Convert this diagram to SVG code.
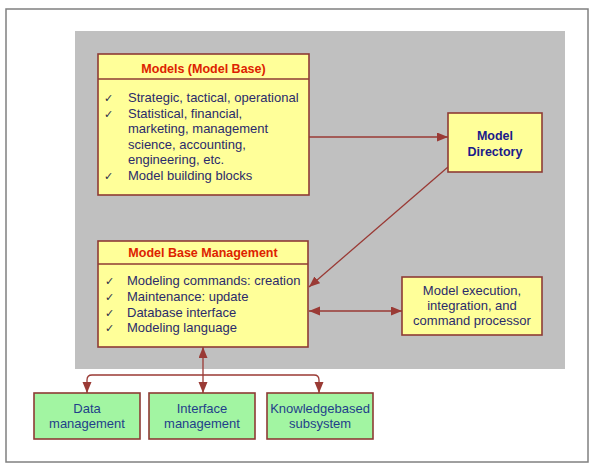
<svg xmlns="http://www.w3.org/2000/svg" width="593" height="469" viewBox="0 0 593 469">
<style>
.y{fill:#ffff99;stroke:#8e3b35;stroke-width:1.6}
.g{fill:#a2f5a2;stroke:#8e3b35;stroke-width:1.6}
.t{font-family:"Liberation Sans",Arial,sans-serif;font-size:12.5px;font-weight:bold;fill:#dd2200;text-anchor:middle}
.b{font-family:"Liberation Sans",Arial,sans-serif;font-size:13px;fill:#2b2b6b}
.c{font-family:"DejaVu Sans",sans-serif;font-size:11px;fill:#2b2b4b}
.d{font-family:"Liberation Sans",Arial,sans-serif;font-size:12.5px;font-weight:bold;fill:#1a1a8a;text-anchor:middle}
.m{font-family:"Liberation Sans",Arial,sans-serif;font-size:13px;fill:#2b2b6b;text-anchor:middle}
.n{font-family:"Liberation Sans",Arial,sans-serif;font-size:13px;fill:#1f3f8a;text-anchor:middle}
.a{fill:none;stroke:#9a3a35;stroke-width:1.3}
</style>
<defs>
<marker id="ah" markerUnits="userSpaceOnUse" markerWidth="12" markerHeight="10" refX="11" refY="4.5" orient="auto-start-reverse">
<path d="M0,0 L11,4.5 L0,9 z" fill="#9a3a35"/>
</marker>
</defs>
<rect x="0" y="0" width="593" height="469" fill="#ffffff"/>
<rect x="6" y="9" width="582" height="453" fill="#ffffff" stroke="#808080" stroke-width="1.5"/>
<rect x="75" y="31" width="490" height="338" fill="#c0c0c0"/>

<g id="connectors">
<path class="a" d="M309,137 L448,137" marker-end="url(#ah)"/>
<path class="a" d="M448,167 L309,287" marker-end="url(#ah)"/>
<path class="a" d="M309,311 L402,311" marker-start="url(#ah)" marker-end="url(#ah)"/>
<path class="a" d="M203,347 L203,393" marker-start="url(#ah)" marker-end="url(#ah)"/>
<path class="a" d="M87,393 L87,380 Q87,375 92,375 L314,375 Q319,375 319,380 L319,393" marker-start="url(#ah)" marker-end="url(#ah)"/>
</g>

<g id="models">
<rect class="y" x="98" y="54" width="211" height="141"/>
<line x1="98" y1="79" x2="309" y2="79" stroke="#8e3b35" stroke-width="1.6"/>
<text class="t" x="203.5" y="72.5">Models (Model Base)</text>
<text class="c" x="104" y="102">✓</text>
<text class="b" x="128" y="102">Strategic, tactical, operational</text>
<text class="c" x="104" y="117.5">✓</text>
<text class="b" x="128" y="117.5">Statistical, financial,</text>
<text class="b" x="128" y="133">marketing, management</text>
<text class="b" x="128" y="148.5">science, accounting,</text>
<text class="b" x="128" y="164">engineering, etc.</text>
<text class="c" x="104" y="179.5">✓</text>
<text class="b" x="128" y="179.5">Model building blocks</text>
</g>

<g id="directory">
<rect class="y" x="448" y="113" width="94" height="59"/>
<text class="d" x="495" y="139.5">Model</text>
<text class="d" x="495" y="155.5">Directory</text>
</g>

<g id="mbm">
<rect class="y" x="98" y="241" width="210" height="106"/>
<line x1="98" y1="264" x2="308" y2="264" stroke="#8e3b35" stroke-width="1.6"/>
<text class="t" x="203" y="257">Model Base Management</text>
<text class="c" x="105" y="285">✓</text>
<text class="b" x="127" y="285">Modeling commands: creation</text>
<text class="c" x="105" y="301">✓</text>
<text class="b" x="127" y="301">Maintenance: update</text>
<text class="c" x="105" y="316.5">✓</text>
<text class="b" x="127" y="316.5">Database interface</text>
<text class="c" x="105" y="332">✓</text>
<text class="b" x="127" y="332">Modeling language</text>
</g>

<g id="execution">
<rect class="y" x="402" y="277" width="140" height="58"/>
<text class="m" x="472" y="294.5">Model execution,</text>
<text class="m" x="472" y="309.5">integration, and</text>
<text class="m" x="472" y="324.5">command processor</text>
</g>

<g id="data">
<rect class="g" x="34" y="393" width="106" height="46"/>
<text class="n" x="87" y="412.5">Data</text>
<text class="n" x="87" y="427.5">management</text>
</g>

<g id="interface">
<rect class="g" x="149" y="393" width="106" height="46"/>
<text class="n" x="202" y="412.5">Interface</text>
<text class="n" x="202" y="427.5">management</text>
</g>

<g id="knowledge">
<rect class="g" x="267" y="393" width="106" height="46"/>
<text class="n" x="320" y="412.5">Knowledgebased</text>
<text class="n" x="320" y="427.5">subsystem</text>
</g>
</svg>
